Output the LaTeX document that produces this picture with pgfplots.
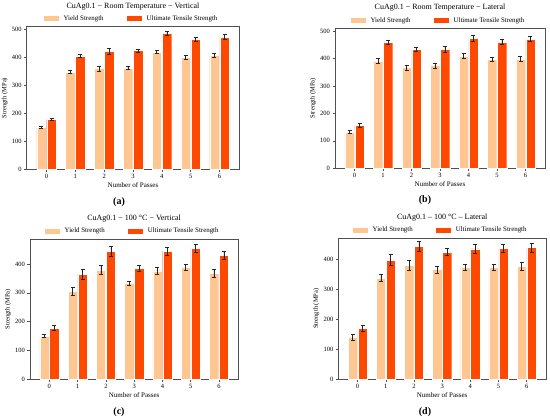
\documentclass[border=0pt]{standalone}
\usepackage{pgfplots}
\pgfplotsset{compat=1.18}
\usepackage{pgfplotstable}
\usepackage{fontspec}
\setmainfont{Liberation Serif}
\definecolor{ys}{RGB}{255,198,145}
\definecolor{uts}{RGB}{255,72,0}
\definecolor{frame}{RGB}{80,80,80}

\pgfplotstableread{
x y ye u ue
0 150 4 178 4
1 347 6 405 6
2 360 9 421 10
3 362 5 424 5
4 419 6 485 6
5 400 8 463 7
6 407 8 472 9
}\dataA
\pgfplotstableread{
x y ye u ue
0 132 6 157 7
1 391 8 459 8
2 367 9 434 8
3 374 9 433 10
4 409 10 474 10
5 398 7 460 9
6 398 9 471 10
}\dataB
\pgfplotstableread{
x y ye u ue
0 150 5 178 9
1 306 13 365 18
2 379 15 444 18
3 333 8 385 9
4 377 11 445 13
5 388 10 455 13
6 368 13 430 13
}\dataC
\pgfplotstableread{
x y ye u ue
0 140 10 169 10
1 338 13 397 18
2 379 17 443 17
3 366 12 424 11
4 373 11 435 14
5 373 11 436 13
6 376 14 439 15
}\dataD

\pgfplotsset{
  panel/.style={
    scale only axis,
    anchor=south west,
    xmin=-0.685, xmax=6.685,
    ymin=0,
    xtick={0,...,6},
    axis line style={frame, line width=0.6pt},
    tick style={frame, line width=0.5pt},
    tick align=outside,
    xtick pos=bottom, ytick pos=left,
    major tick length=2.5pt,
    tick label style={font=\fontsize{6.5}{7.5}\selectfont, black},
    /pgf/number format/assume math mode=true,
    xticklabel style={yshift=1pt},
    yticklabel style={xshift=1pt},
    xlabel={Number of Passes},
    ylabel={Strength (MPa)},
    every axis x label/.style={at={(axis description cs:0.5,0)}, anchor=center, yshift=-15.7pt, font=\fontsize{7}{8}\selectfont},
    every axis y label/.style={at={(axis description cs:0,0.5)}, xshift=-22pt, rotate=90, anchor=center, font=\fontsize{6.5}{7.5}\selectfont},
    every axis title shift=0pt,
    title style={at={(axis description cs:0.5,1)}, anchor=center, yshift=20.5pt, font=\fontsize{8}{9}\selectfont},
    legend columns=2,
    legend style={at={(axis description cs:0.5,1)}, anchor=center, yshift=7.7pt, draw=none, fill=none,
      font=\fontsize{6.9}{8}\selectfont, inner sep=0pt,
      /tikz/every even column/.append style={column sep=18pt},
      nodes={inner sep=0pt, inner xsep=5pt}},
    ybar, bar width=0.33,
    error bars/y dir=both, error bars/y explicit,
    error bars/error bar style={black!85, line width=0.65pt},
    error bars/error mark options={rotate=90, black!85, mark size=2pt, line width=0.65pt},
  },
  mylegend/.style={legend image code/.code={\fill[##1, draw=none] (0pt,-2.5pt) rectangle (15pt,2.5pt);}},
  ysbar/.style={fill=ys, draw=white, line width=0.3pt, bar shift=-0.175, mylegend},
  utsbar/.style={fill=uts, draw=white, line width=0.3pt, bar shift=0.175, mylegend},
}

\begin{document}
\begin{tikzpicture}[x=1pt,y=1pt]
\useasboundingbox (0,0) rectangle (550,420);
\fill[white] (0,0) rectangle (550,420);

% (a)
\begin{axis}[panel, at={(26.7pt,250.7pt)}, width=212.6pt, height=142.6pt, ymax=509,
  ytick={0,100,...,500}, title={CuAg0.1 − Room Temperature − Vertical}]
\addplot[ysbar] table[x=x, y=y, y error=ye] {\dataA};
\addplot[utsbar] table[x=x, y=u, y error=ue] {\dataA};
\legend{Yield Strength, Ultimate Tensile Strength}
\end{axis}

% (b)
\begin{axis}[panel, at={(335pt,251.7pt)}, width=210pt, height=140pt, ymax=510,
  ytick={0,100,...,500}, title={CuAg0.1 − Room Temperature − Lateral}]
\addplot[ysbar] table[x=x, y=y, y error=ye] {\dataB};
\addplot[utsbar] table[x=x, y=u, y error=ue] {\dataB};
\legend{Yield Strength, Ultimate Tensile Strength}
\end{axis}

% (c)
\begin{axis}[panel, at={(30pt,40.7pt)}, width=208.3pt, height=140.3pt, ymax=487,
  ytick={0,100,...,400}, title={CuAg0.1 − 100 °C − Vertical}]
\addplot[ysbar] table[x=x, y=y, y error=ye] {\dataC};
\addplot[utsbar] table[x=x, y=u, y error=ue] {\dataC};
\legend{Yield Strength, Ultimate Tensile Strength}
\end{axis}

% (d)
\begin{axis}[panel, at={(338.3pt,40.7pt)}, width=207.7pt, height=141.3pt, ymax=471,
  ytick={0,100,...,400}, title={CuAg0.1 – 100 °C – Lateral}]
\addplot[ysbar] table[x=x, y=y, y error=ye] {\dataD};
\addplot[utsbar] table[x=x, y=u, y error=ue] {\dataD};
\legend{Yield Strength, Ultimate Tensile Strength}
\end{axis}

\node[font=\bfseries\fontsize{10}{12}\selectfont] at (119,218) {(a)};
\node[font=\bfseries\fontsize{10}{12}\selectfont] at (425,220) {(b)};
\node[font=\bfseries\fontsize{10}{12}\selectfont] at (119,8.3) {(c)};
\node[font=\bfseries\fontsize{10}{12}\selectfont] at (425,8.3) {(d)};
\end{tikzpicture}
\end{document}
